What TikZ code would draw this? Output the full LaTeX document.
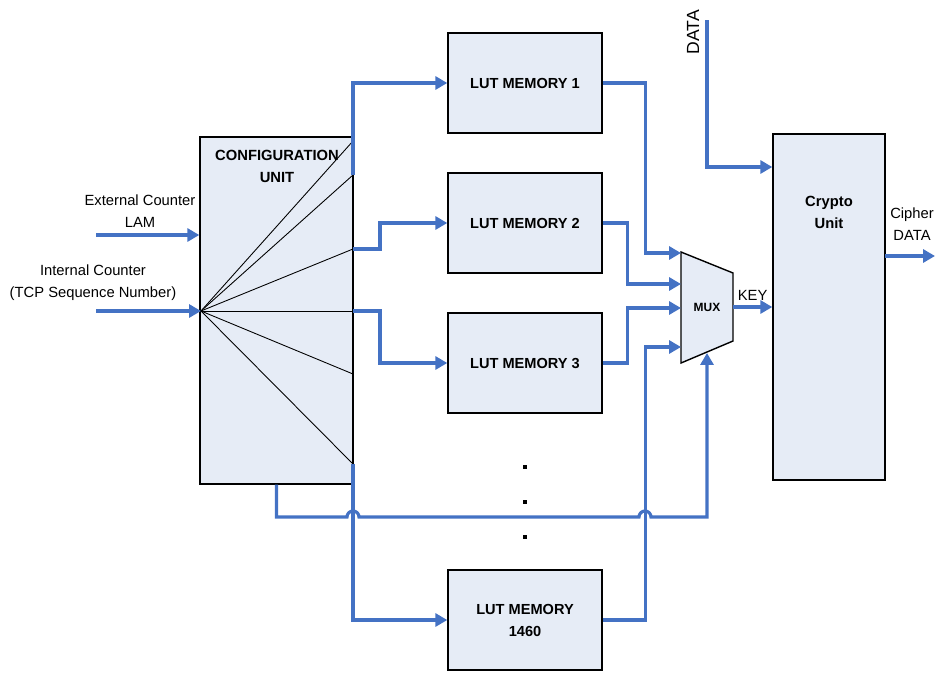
\documentclass[tikz,border=0pt]{standalone}
\usepackage{fontspec}
\setmainfont{Liberation Sans}
\usetikzlibrary{arrows.meta}
\definecolor{boxfill}{RGB}{230,236,246}
\definecolor{linkblue}{RGB}{68,114,196}

\begin{document}
\begin{tikzpicture}[x=0.02cm,y=-0.02cm,
    block/.style={draw=black,line width=0.8pt,fill=boxfill,inner sep=0pt},
    lut/.style={block,minimum width=3.08cm,minimum height=2cm,align=center,
        font=\fontsize{8.3}{12.5}\selectfont\bfseries},
    link/.style={draw=linkblue,line width=1.8pt,-{Triangle[length=6.8pt,width=7.4pt]}},
    fan/.style={draw=black,line width=0.5pt},
    lbl/.style={align=center,inner sep=0pt,font=\fontsize{8.4}{12.5}\selectfont},
    hdr/.style={lbl,font=\fontsize{8.4}{12.5}\selectfont\bfseries}]
\useasboundingbox (0,0) rectangle (937,673);

% configuration unit and its fan of lines
\node[block,minimum width=3.06cm,minimum height=6.94cm] (cfg) at (276.5,310.5) {};
\node[hdr] (cfgtxt) at (277,166) {CONFIGURATION\\UNIT};
\coordinate (hub) at (201,311);
\foreach \y/\n in {141/a,175/b,249/c,311/d,374/e,464/f}
    \draw[fan] (hub) -- (353,\y) coordinate (f\n);

% the lookup tables
\node[lut] (lut1) at (525,83) {LUT MEMORY 1};
\node[lut] (lut2) at (525,223) {LUT MEMORY 2};
\node[lut] (lut3) at (525,363) {LUT MEMORY 3};
\node[lut] (lutN) at (525,620) {LUT MEMORY\\1460};
\foreach \y in {467,502,537}
    \fill (523,\y-2) rectangle ++(4,4);

% multiplexer
\coordinate (mxa) at (681,253);
\coordinate (mxb) at (681,284);
\coordinate (mxc) at (681,308);
\coordinate (mxd) at (681,347);
\coordinate (mxe) at (707,353);
\coordinate (mxo) at (733,307);
\draw[line width=0.8pt,fill=boxfill] (681,252) -- (733,273) -- (733,341) -- (681,363) -- cycle;
\node[hdr,font=\fontsize{6.8}{8}\selectfont\bfseries] (mux) at (707,307) {MUX};

\node[block,minimum width=2.24cm,minimum height=6.92cm] (crypto) at (829,307) {};
\node[hdr] (cryptotxt) at (829,212) {Crypto\\Unit};

% inputs
\node[lbl] (extlbl) at (140,211) {External Counter\\LAM};
\node[lbl] (intlbl) at (93,283) {Internal Counter\\(TCP Sequence Number)};
\coordinate (extin) at (96,235);
\coordinate (intin) at (96,311);
\draw[link] (extin) -- (extin -| cfg.west);
\draw[link] (intin) -- (hub);

% fan outputs to the tables
\draw[link] (fb) |- (lut1.west);
\draw[link] (fc) -- ++(27,0) |- (lut2.west);
\draw[link] (fd) -- ++(27,0) |- (lut3.west);
\draw[link] (ff) |- (lutN.west);

% tables into the multiplexer
\draw[link] (lut1.east) -- ++(43,0) |- (mxa);
\draw[link] (lut2.east) -- ++(25,0) |- (mxb);
\draw[link] (lut3.east) -- ++(25,0) |- (mxc);
\draw[link] (lutN.east) -- ++(43,0) |- (mxd);

% select line from the configuration unit
\draw[link] (cfg.south) -- (cfg.south |- 0,517) -- (347,517)
    arc[start angle=180,end angle=0,radius=0.12cm] -- (639,517)
    arc[start angle=180,end angle=0,radius=0.12cm] -- (707,517) -- (mxe);

\draw[link] (mxo) -- (mxo -| crypto.west) node[midway,above=3pt,lbl] (keylbl) {KEY};

% data in and cipher out
\coordinate (dtop) at (707,20);
\node[lbl,rotate=90,font=\fontsize{10}{12}\selectfont] (datalbl) at (693,32) {DATA};
\draw[link] (dtop) |- (crypto.west |- 0,167);
\coordinate (cout) at (885,256);
\draw[link] (cout) -- ++(50,0);
\node[lbl] (outlbl) at (912,224) {Cipher\\DATA};
\end{tikzpicture}
\end{document}
